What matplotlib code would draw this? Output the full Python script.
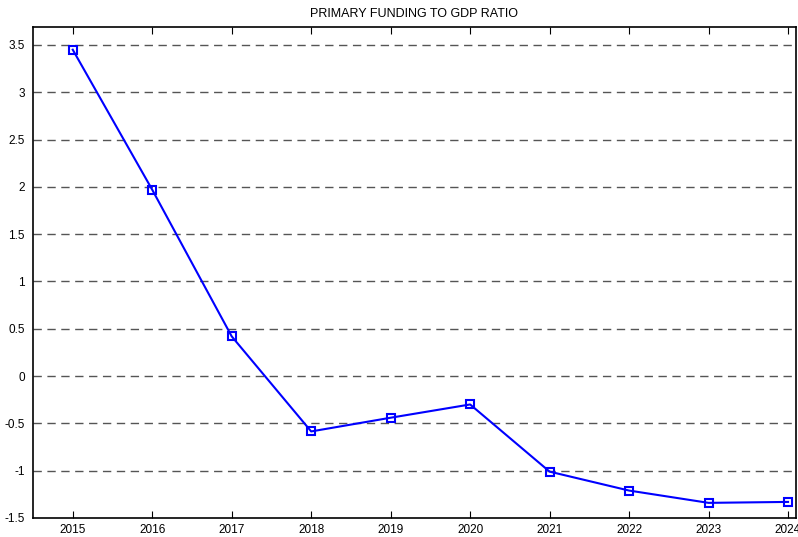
import numpy as np
import matplotlib.pyplot as plt

plt.rcParams['font.family'] = ['Liberation Sans', 'DejaVu Sans']

years = [2015, 2016, 2017, 2018, 2019, 2020, 2021, 2022, 2023, 2024]
ratio = [3.45, 1.97, 0.42, -0.585, -0.44, -0.30, -1.01, -1.21, -1.34, -1.33]
yticks = [-1.5, -1, -0.5, 0, 0.5, 1, 1.5, 2, 2.5, 3, 3.5]
ytick_labels = ['-1.5', '-1', '-0.5', '0', '0.5', '1', '1.5', '2', '2.5', '3', '3.5']

fig = plt.figure(figsize=(7.98, 5.37), dpi=100)
ax = fig.add_axes([33/798, 19/537, 763/798, 491/537])

ax.plot(years, ratio, color='blue', lw=1.5, marker='s', ms=6,
        mfc='none', mec='blue', mew=1.5)

ax.set_xlim(2014.5, 2024.1)
ax.set_ylim(-1.5, 3.69)
ax.set_xticks(years)
ax.set_yticks(yticks)
ax.set_yticklabels(ytick_labels)
for y in yticks[1:]:
    ax.axhline(y, color='#555555', lw=1, ls=(0, (6, 4)), zorder=0)

ax.tick_params(axis='x', direction='in', top=True, length=5, labelsize=8.5, pad=4)
ax.tick_params(axis='y', direction='in', length=0, labelsize=8.5, pad=6)
for s in ax.spines.values():
    s.set_linewidth(1.2)

ax.set_title('PRIMARY FUNDING TO GDP RATIO', fontsize=9, pad=7)

fig.savefig('out.png', dpi=100)
